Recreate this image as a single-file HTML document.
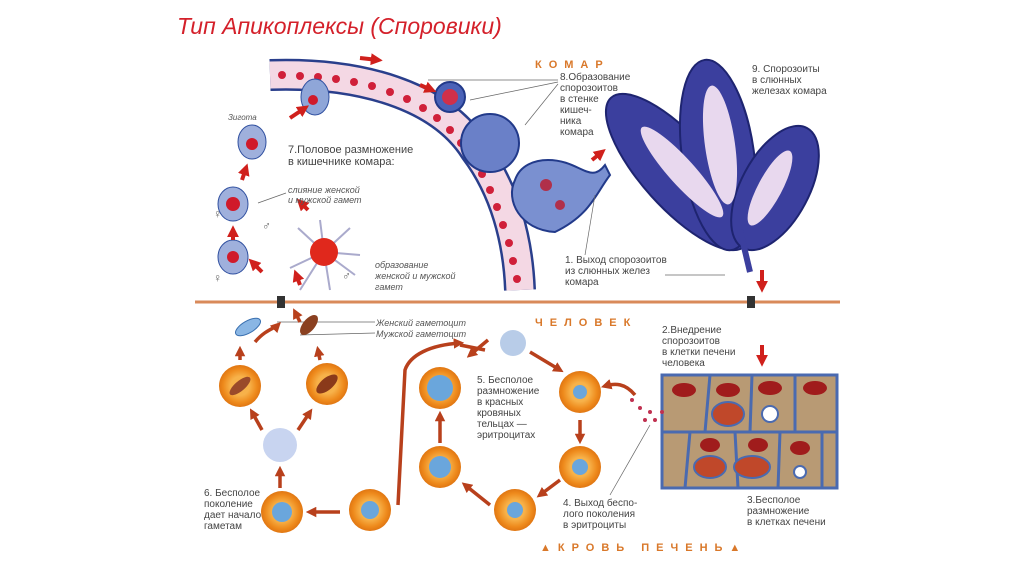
<!DOCTYPE html>
<html><head><meta charset="utf-8"><style>
html,body{margin:0;padding:0;background:#fff;width:1024px;height:574px;overflow:hidden}
svg{display:block}
text{font-family:"Liberation Sans",sans-serif;fill:#444}
.i{font-style:italic;fill:#555}
.s{font-size:10px}
.b{fill:#d9782a;font-weight:bold;font-size:11px;letter-spacing:7px}
</style></head><body>
<svg width="1024" height="574" viewBox="0 0 1024 574" xmlns="http://www.w3.org/2000/svg">
<defs>
<radialGradient id="rbc"><stop offset="0.45" stop-color="#f7b24a"/><stop offset="0.8" stop-color="#ee8a1c"/><stop offset="1" stop-color="#e07612"/></radialGradient>
<marker id="a" viewBox="0 0 10 10" refX="6" refY="5" markerWidth="3" markerHeight="3" orient="auto"><path d="M0,0L10,5L0,10z" fill="#b8401c"/></marker>
<marker id="r" viewBox="0 0 10 10" refX="6" refY="5" markerWidth="3" markerHeight="3" orient="auto"><path d="M0,0L10,5L0,10z" fill="#d0201c"/></marker>
</defs>
<text x="177" y="34" style="font-size:23px;font-style:italic;fill:#d4202a">Тип Апикоплексы (Споровики)</text>

<!-- epithelium -->
<path d="M270,75 C360,72 440,95 475,150 C505,190 518,240 520,290" fill="none" stroke="#2a3f8c" stroke-width="32"/>
<path d="M270,75 C360,72 440,95 475,150 C505,190 518,240 520,290" fill="none" stroke="#f4d8e4" stroke-width="27"/>
<g fill="#d0203a">
<circle cx="282" cy="75" r="4"/><circle cx="300" cy="76" r="4"/><circle cx="318" cy="77" r="4"/><circle cx="336" cy="79" r="4"/><circle cx="354" cy="82" r="4"/><circle cx="372" cy="86" r="4"/><circle cx="390" cy="92" r="4"/><circle cx="407" cy="99" r="4"/><circle cx="423" cy="108" r="4"/><circle cx="437" cy="118" r="4"/><circle cx="450" cy="130" r="4"/><circle cx="461" cy="143" r="4"/><circle cx="472" cy="158" r="4"/><circle cx="482" cy="174" r="4"/><circle cx="490" cy="190" r="4"/><circle cx="497" cy="207" r="4"/><circle cx="503" cy="225" r="4"/><circle cx="509" cy="243" r="4"/><circle cx="513" cy="261" r="4"/><circle cx="517" cy="279" r="4"/>
</g>
<!-- cysts -->
<circle cx="450" cy="97" r="15" fill="#4a62b8" stroke="#223a8a" stroke-width="2"/><circle cx="450" cy="97" r="8" fill="#d0304a"/>
<circle cx="490" cy="143" r="29" fill="#6a80c8" stroke="#223a8a" stroke-width="2"/>
<path d="M548,160 C580,160 590,185 605,165 L610,175 C595,195 590,215 555,232 C520,230 505,200 515,180 C520,165 535,160 548,160z" fill="#7a90d0" stroke="#223a8a" stroke-width="2"/>
<circle cx="546" cy="185" r="6" fill="#b0304a"/><circle cx="560" cy="205" r="5" fill="#b0304a"/>
<!-- gametes left -->
<ellipse cx="315" cy="97" rx="14" ry="18" fill="#8fa6d8" stroke="#3050a0"/><circle cx="313" cy="100" r="5" fill="#d01a2a"/>
<ellipse cx="252" cy="142" rx="14" ry="17" fill="#9fb0dc" stroke="#3050a0"/><circle cx="252" cy="144" r="6" fill="#d01a2a"/>
<ellipse cx="233" cy="204" rx="15" ry="17" fill="#9fb0dc" stroke="#3050a0"/><circle cx="233" cy="204" r="7" fill="#d01a2a"/>
<ellipse cx="233" cy="257" rx="15" ry="17" fill="#9fb0dc" stroke="#3050a0"/><circle cx="233" cy="257" r="6" fill="#d01a2a"/>
<g stroke="#aac" stroke-width="2"><line x1="324" y1="252" x2="298" y2="228"/><line x1="324" y1="252" x2="350" y2="228"/><line x1="324" y1="252" x2="290" y2="268"/><line x1="324" y1="252" x2="355" y2="275"/><line x1="324" y1="252" x2="320" y2="220"/><line x1="324" y1="252" x2="330" y2="290"/><line x1="324" y1="252" x2="300" y2="290"/><line x1="324" y1="252" x2="360" y2="255"/></g>
<circle cx="324" cy="252" r="14" fill="#e0281c"/>
<g fill="none" stroke="#d0201c" stroke-width="4" marker-end="url(#r)">
<path d="M290,118 L305,108"/><path d="M242,180 L246,168"/><path d="M233,240 L233,230"/><path d="M262,272 L252,262"/><path d="M300,285 L296,274"/><path d="M308,210 L300,202"/>
<path d="M360,58 L378,60"/><path d="M420,85 L432,90"/><path d="M592,160 L602,152"/>
<path d="M762,270 L762,288"/><path d="M762,345 L762,362"/>
</g>
<text class="i" x="228" y="120" style="font-size:8px">Зигота</text>
<text x="288" y="153" style="font-size:11px">7.Половое  размножение</text>
<text x="288" y="165" style="font-size:11px">в кишечнике комара:</text>
<text class="i s" x="288" y="193" style="font-size:9px">слияние женской</text>
<text class="i s" x="288" y="203" style="font-size:9px">и мужской гамет</text>
<text class="i" x="375" y="268" style="font-size:9px">образование</text>
<text class="i" x="375" y="279" style="font-size:9px">женской и мужской</text>
<text class="i" x="375" y="290" style="font-size:9px">гамет</text>
<text x="213" y="218" style="font-size:12px;fill:#666">♀</text><text x="213" y="282" style="font-size:12px;fill:#666">♀</text>
<text x="262" y="230" style="font-size:12px;fill:#666">♂</text><text x="342" y="280" style="font-size:12px;fill:#666">♂</text>

<!-- gland -->
<g stroke="#1e2470" stroke-width="2">
<ellipse cx="678" cy="172" rx="36" ry="100" transform="rotate(-42 678 172)" fill="#3b3f9e"/>
<ellipse cx="718" cy="155" rx="36" ry="96" transform="rotate(-8 718 155)" fill="#3b3f9e"/>
<ellipse cx="775" cy="188" rx="34" ry="68" transform="rotate(28 775 188)" fill="#3b3f9e"/>
</g>
<g fill="#e8d8ee">
<ellipse cx="682" cy="172" rx="13" ry="60" transform="rotate(-42 682 172)"/>
<ellipse cx="720" cy="145" rx="15" ry="60" transform="rotate(-8 720 145)"/>
<ellipse cx="770" cy="188" rx="12" ry="42" transform="rotate(28 770 188)"/>
</g>
<path d="M740,230 L750,272" stroke="#3b3f9e" stroke-width="6"/>

<text class="b" x="535" y="68">КОМАР</text>
<text x="560" y="80" class="s">8.Образование</text><text x="560" y="91" class="s">спорозоитов</text><text x="560" y="102" class="s">в  стенке</text><text x="560" y="113" class="s">кишеч-</text><text x="560" y="124" class="s">ника</text><text x="560" y="135" class="s">комара</text>
<text x="752" y="72" class="s">9. Спорозоиты</text><text x="752" y="83" class="s">в  слюнных</text><text x="752" y="94" class="s">железах комара</text>
<text x="565" y="263" class="s">1.  Выход спорозоитов</text><text x="565" y="274" class="s">из слюнных  желез</text><text x="565" y="285" class="s">комара</text>
<g stroke="#666" stroke-width="0.7" fill="none"><line x1="428" y1="80" x2="558" y2="80"/><line x1="470" y1="100" x2="558" y2="82"/><line x1="525" y1="125" x2="558" y2="84"/><line x1="585" y1="255" x2="595" y2="195"/><line x1="665" y1="275" x2="725" y2="275"/><line x1="277" y1="322" x2="375" y2="322"/><line x1="300" y1="335" x2="375" y2="333"/><line x1="258" y1="203" x2="286" y2="193"/><line x1="610" y1="495" x2="650" y2="425"/></g>

<!-- divider -->
<line x1="195" y1="302" x2="840" y2="302" stroke="#d98a5a" stroke-width="3"/>
<rect x="277" y="296" width="8" height="12" fill="#333"/><rect x="747" y="296" width="8" height="12" fill="#333"/>

<text class="b" x="535" y="326">ЧЕЛОВЕК</text>
<text class="i" x="376" y="326" style="font-size:9px">Женский гаметоцит</text>
<text class="i" x="376" y="337" style="font-size:9px">Мужской гаметоцит</text>
<text x="662" y="333" class="s">2.Внедрение</text><text x="662" y="344" class="s">спорозоитов</text><text x="662" y="355" class="s">в клетки  печени</text><text x="662" y="366" class="s">человека</text>
<text x="477" y="383" class="s">5. Бесполое</text><text x="477" y="394" class="s">размножение</text><text x="477" y="405" class="s">в красных</text><text x="477" y="416" class="s">кровяных</text><text x="477" y="427" class="s">тельцах —</text><text x="477" y="438" class="s">эритроцитах</text>
<text x="204" y="496" class="s">6. Бесполое</text><text x="204" y="507" class="s">поколение</text><text x="204" y="518" class="s">дает начало</text><text x="204" y="529" class="s">гаметам</text>
<text x="563" y="506" class="s">4. Выход беспо-</text><text x="563" y="517" class="s">лого поколения</text><text x="563" y="528" class="s">в эритроциты</text>
<text x="747" y="503" class="s">3.Бесполое</text><text x="747" y="514" class="s">размножение</text><text x="747" y="525" class="s">в клетках печени</text>
<text class="b" x="540" y="551">▲КРОВЬ  ПЕЧЕНЬ▲</text>

<!-- liver -->
<rect x="662" y="375" width="175" height="113" fill="#b89a74" stroke="#4a6ab0" stroke-width="3"/>
<g stroke="#4a6ab0" stroke-width="3" fill="none"><path d="M662,432 L837,432"/><path d="M710,375 L705,432 M752,375 L750,432 M795,375 L795,432 M690,432 L685,488 M735,432 L738,488 M780,432 L778,488 M822,432 L822,488"/></g>
<g fill="#a01c1c"><ellipse cx="684" cy="390" rx="12" ry="7"/><ellipse cx="728" cy="390" rx="12" ry="7"/><ellipse cx="770" cy="388" rx="12" ry="7"/><ellipse cx="815" cy="388" rx="12" ry="7"/><ellipse cx="710" cy="445" rx="10" ry="7"/><ellipse cx="758" cy="445" rx="10" ry="7"/><ellipse cx="800" cy="448" rx="10" ry="7"/></g>
<ellipse cx="728" cy="414" rx="16" ry="12" fill="#c0482a" stroke="#4a6ab0" stroke-width="2"/>
<ellipse cx="710" cy="467" rx="16" ry="11" fill="#c0482a" stroke="#4a6ab0" stroke-width="2"/>
<ellipse cx="752" cy="467" rx="18" ry="11" fill="#c0482a" stroke="#4a6ab0" stroke-width="2"/>
<circle cx="770" cy="414" r="8" fill="#fff" stroke="#4a6ab0" stroke-width="2"/><circle cx="800" cy="472" r="6" fill="#fff" stroke="#4a6ab0" stroke-width="2"/>
<g fill="#c03050"><circle cx="640" cy="408" r="2"/><circle cx="650" cy="412" r="2"/><circle cx="655" cy="420" r="2"/><circle cx="645" cy="420" r="2"/><circle cx="662" cy="412" r="2"/><circle cx="632" cy="400" r="2"/></g>

<!-- gametocytes -->
<ellipse cx="248" cy="327" rx="14" ry="6" transform="rotate(-30 248 327)" fill="#8ab6e4" stroke="#3a70b0"/>
<ellipse cx="309" cy="325" rx="12" ry="6" transform="rotate(-50 309 325)" fill="#8a4020"/>

<!-- RBCs -->
<g fill="url(#rbc)">
<circle cx="240" cy="386" r="21"/><circle cx="327" cy="384" r="21"/><circle cx="580" cy="392" r="21"/><circle cx="580" cy="467" r="21"/><circle cx="515" cy="510" r="21"/><circle cx="440" cy="467" r="21"/><circle cx="440" cy="388" r="21"/><circle cx="370" cy="510" r="21"/><circle cx="282" cy="512" r="21"/>
</g>
<g fill="#6aa6dc"><circle cx="580" cy="392" r="7"/><circle cx="580" cy="467" r="8"/><circle cx="515" cy="510" r="8"/><circle cx="440" cy="467" r="11"/><circle cx="440" cy="388" r="13"/><circle cx="370" cy="510" r="9"/><circle cx="282" cy="512" r="10"/></g>
<ellipse cx="240" cy="386" rx="13" ry="5" transform="rotate(-40 240 386)" fill="#9a4a2a"/><ellipse cx="327" cy="384" rx="13" ry="6" transform="rotate(-40 327 384)" fill="#8a3a1a"/>
<circle cx="280" cy="445" r="17" fill="#c8d4f0"/><circle cx="513" cy="343" r="13" fill="#b8cce8"/>

<g fill="none" stroke="#b8401c" stroke-width="3.5" marker-end="url(#a)">
<path d="M240,360 L240,350"/><path d="M255,342 C265,330 275,328 278,325"/><path d="M320,360 L318,350"/><path d="M300,322 L295,312"/>
<path d="M262,430 L252,412"/><path d="M298,430 L310,412"/><path d="M280,488 L280,470"/><path d="M340,512 L310,512"/>
<path d="M398,505 C400,470 402,420 405,370 C410,355 430,345 460,343"/>
<path d="M440,443 L440,415"/><path d="M485,350 L460,345 M488,340 L470,355"/>
<path d="M530,352 L560,370"/><path d="M580,420 L580,440"/><path d="M560,480 L540,495"/><path d="M490,505 L465,485"/>
<path d="M635,395 C625,383 615,383 605,386"/>
</g>
</svg>
</body></html>
